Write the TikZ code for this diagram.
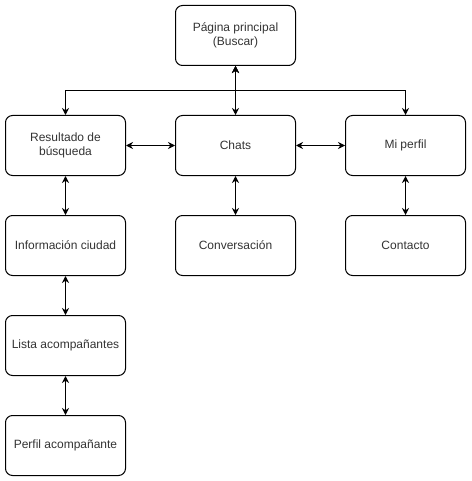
\documentclass[tikz,border=0pt]{standalone}
\usepackage{fontspec}
\setmainfont{Liberation Sans}
\usetikzlibrary{arrows.meta}
\begin{document}
\begin{tikzpicture}[x=1pt,y=-1pt,
  box/.style={draw=black,line width=1pt,rounded corners=7pt,minimum width=120pt,minimum height=60pt,align=center,inner sep=2pt,text=black!80,font=\fontsize{12}{14}\selectfont},
  conn/.style={line width=1pt,{Stealth[length=7pt,width=7pt]}-{Stealth[length=7pt,width=7pt]}},
  single/.style={line width=1pt,-{Stealth[length=7pt,width=7pt]}}]
\useasboundingbox (0,0) rectangle (471,481);
\node[box] (main) at (235.5,35.5) {Página principal\\(Buscar)};
\node[box] (res) at (65.5,145.5) {Resultado de\\búsqueda};
\node[box] (chats) at (235.5,145.5) {Chats};
\node[box] (perfil) at (405.5,145.5) {Mi perfil};
\node[box] (info) at (65.5,245.5) {Información ciudad};
\node[box] (conv) at (235.5,245.5) {Conversación};
\node[box] (cont) at (405.5,245.5) {Contacto};
\node[box] (lista) at (65.5,345.5) {Lista acompañantes};
\node[box] (pacomp) at (65.5,445.5) {Perfil acompañante};
\coordinate (mid) at (235.5,90.5);
\draw[conn] (main) -- (chats);
\draw[conn] (main.south) -- (mid) -| (res.north);
\draw[conn] (main.south) -- (mid) -| (perfil.north);
\draw[conn] (res) -- (chats);
\draw[conn] (chats) -- (perfil);
\draw[conn] (res) -- (info);
\draw[conn] (chats) -- (conv);
\draw[conn] (perfil) -- (cont);
\draw[conn] (info) -- (lista);
\draw[conn] (lista) -- (pacomp);
\end{tikzpicture}
\end{document}
